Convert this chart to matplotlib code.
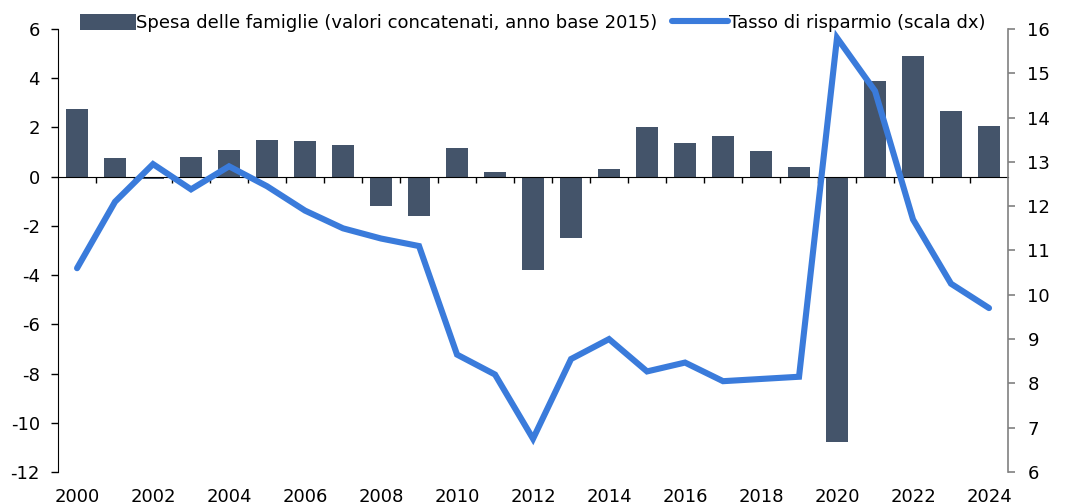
import numpy as np
import matplotlib.pyplot as plt

plt.rcParams['font.family'] = ['DejaVu Sans']
plt.rcParams['axes.unicode_minus'] = False

years = list(range(2000, 2025))
spesa = [2.75, 0.75, -0.1, 0.8, 1.1, 1.5, 1.45, 1.3, -1.2, -1.6, 1.15, 0.2, -3.8,
         -2.5, 0.3, 2.0, 1.35, 1.65, 1.05, 0.4, -10.8, 3.9, 4.9, 2.65, 2.05]
risparmio = [10.6, 12.1, 12.95, 12.38, 12.9, 12.45, 11.9, 11.5, 11.27, 11.1, 8.65,
             8.2, 6.75, 8.55, 9.0, 8.27, 8.47, 8.05, 8.1, 8.15, 15.8, 14.6, 11.7,
             10.25, 9.7]
label_bar = "Spesa delle famiglie (valori concatenati, anno base 2015)"
label_line = "Tasso di risparmio (scala dx)"

bar_col = "#44546A"
line_col = "#3A7BDB"

x = np.arange(len(years))

fig = plt.figure(figsize=(10.65, 5.04), dpi=100)
ax = fig.add_axes([0.0545, 0.0635, 0.892, 0.879])
ax.bar(x, spesa, width=0.56, color=bar_col, label=label_bar, zorder=2)
ax.set_xlim(-0.5, len(years) - 0.5)
ax.set_ylim(-12, 6)
ax.set_yticks(np.arange(-12, 7, 2))
ax.tick_params(axis='y', labelsize=13, length=5, width=1, colors='black', pad=8)

# x axis drawn as the zero line, ticks at category boundaries
ax.spines['bottom'].set_position(('data', 0))
ax.spines['top'].set_visible(False)
ax.spines['right'].set_visible(False)
ax.set_xticks(np.arange(0.5, len(years) - 0.5, 1))
ax.set_xticklabels([])
ax.tick_params(axis='x', length=4, width=1, direction='out')
ax.spines['bottom'].set_zorder(3)

for i, yr in enumerate(years):
    if yr % 2 == 0:
        ax.text(i, -0.035, str(yr), transform=ax.get_xaxis_transform(),
                ha='center', va='top', fontsize=13)

ax2 = ax.twinx()
ax2.plot(x, risparmio, color=line_col, lw=4.4, solid_capstyle='round',
         solid_joinstyle='miter', label=label_line)
ax2.set_ylim(6, 16)
ax2.set_yticks(np.arange(6, 17, 1))
for s in ['top', 'left', 'bottom']:
    ax2.spines[s].set_visible(False)
ax2.spines['right'].set_color('#808080')
ax2.spines['right'].set_linewidth(1.2)
ax2.tick_params(axis='y', labelsize=13, length=5, width=1.2, color='#808080',
                labelcolor='black', pad=9)

h1, l1 = ax.get_legend_handles_labels()
h2, l2 = ax2.get_legend_handles_labels()
fig.legend(h1 + h2, l1 + l2, loc='center', bbox_to_anchor=(0.5, 0.955), ncol=2,
           frameon=False, fontsize=13, handlelength=3.1, handleheight=1.0,
           handletextpad=0.05, columnspacing=0.8)

fig.savefig('out.png', dpi=100)
